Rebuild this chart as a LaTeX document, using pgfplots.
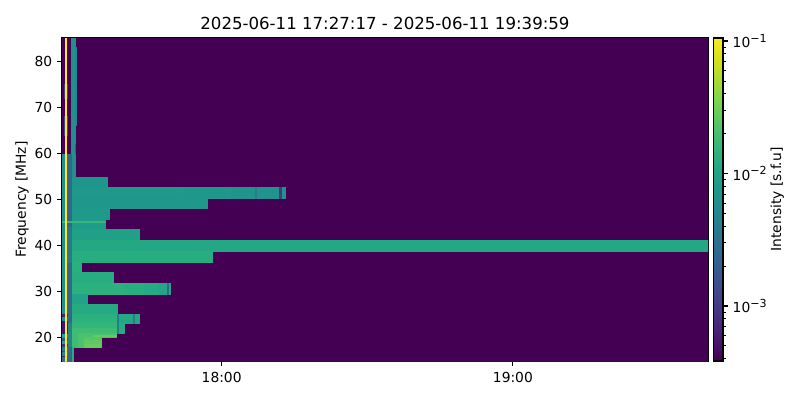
\documentclass[border=0pt]{standalone}
\usepackage{fontspec}
\setmainfont{DejaVu Sans}
\usepackage{pgfplots}
\pgfplotsset{compat=1.18}
\newcommand{\R}[5]{\addplot[forget plot,patch,patch type=rectangle,shader=flat,point meta=explicit] coordinates {(#1,#3) [#5] (#2,#3) [#5] (#2,#4) [#5] (#1,#4) [#5]};}
\newcommand{\pow}[1]{10\raisebox{0.75ex}{\fontsize{8}{9}\selectfont −#1}}
\begin{document}
\begin{tikzpicture}[x=1bp,y=1bp]
\useasboundingbox (0,0) rectangle (576,288);
\begin{axis}[
 at={(44.64bp,28.08bp)},anchor=south west,scale only axis,
 width=465.12bp,height=232.56bp,
 xmin=27.11,xmax=160.2,ymin=15,ymax=85,
 axis line style={line width=0.8pt},
 tick style={line width=0.8pt,black},
 major tick length=3.5pt,tick align=outside,tick pos=left,
 xtick={60,120},xticklabels={18:00,19:00},
 ytick={20,30,40,50,60,70,80},
 /pgf/number format/assume math mode=true,
 tick label style={font=\fontsize{10}{12}\selectfont},
 xticklabel style={yshift=-1.2bp},
 label style={font=\fontsize{10}{12}\selectfont},
 ylabel={Frequency [MHz]},
 ylabel style={at={(axis description cs:0,0.5)},anchor=south,yshift=20.4bp},
 title={2025-06-11 17:27:17 - 2025-06-11 19:39:59},
 title style={font=\fontsize{12}{14}\selectfont,at={(0.5,1)},anchor=south,yshift=-3.6bp},
 colormap/viridis,
 point meta min=-3.415,point meta max=-0.977,
 colorbar,
 colorbar shift/.style={xshift=3.6bp},
 colorbar style={
  scale only axis,width=6.8bp,height=232.56bp,
  ytick={-3,-2,-1},yticklabels={\pow{3},\pow{2},\pow{1}},
  minor ytick={-3.398,-3.301,-3.222,-3.155,-3.097,-3.046,-2.699,-2.523,-2.398,-2.301,-2.222,-2.155,-2.097,-2.046,-1.699,-1.523,-1.398,-1.301,-1.222,-1.155,-1.097,-1.046},
  major tick length=3.5pt,minor tick length=2pt,tick align=outside,
  tick pos=right,yticklabel pos=right,
  tick style={line width=0.8pt,black},
  minor tick style={line width=0.6pt,black},
  axis line style={line width=0.8pt},
  yticklabel style={font=\fontsize{10}{12}\selectfont},
  ylabel={Intensity [s.f.u]},
  ylabel style={font=\fontsize{10}{12}\selectfont,yshift=4bp},
 },
]
% background
\R{27.11}{160.2}{15}{85}{-3.415}
% bands: x0 x1 f0 f1 log10(intensity)
\R{29.07}{36.43}{52.7}{54.9}{-2.14}
\R{29.07}{73.20}{50.3}{52.7}{-2.10}
\R{52}{73.20}{50.3}{52.7}{-2.13}
\R{62}{73.20}{50.3}{52.7}{-2.16}
\R{29.07}{57.11}{48.2}{50.3}{-2.12}
\R{29.07}{36.76}{45.8}{48.2}{-2.10}
\R{29.07}{35.94}{43.6}{45.8}{-2.08}
\R{29.07}{43.09}{41.1}{43.6}{-2.02}
\R{29.07}{160.2}{38.7}{41.1}{-1.95}
\R{29.07}{58.08}{36.5}{38.7}{-1.90}
\R{29.07}{31.13}{34.3}{36.5}{-1.88}
\R{29.07}{37.73}{31.9}{34.3}{-1.90}
\R{29.07}{49.48}{29.5}{31.9}{-1.86}
\R{40}{49.48}{29.5}{31.9}{-1.89}
\R{44}{49.48}{29.5}{31.9}{-1.93}
\R{47}{49.48}{29.5}{31.9}{-1.97}
\R{29.07}{32.31}{27.4}{29.5}{-2.0}
\R{29.07}{38.56}{25.1}{27.4}{-1.93}
\R{29.07}{38.56}{24.1}{25.1}{-1.88}
\R{29.07}{38.56}{23.2}{24.1}{-1.84}
\R{38.56}{43.09}{23.2}{25.1}{-1.95}
\R{29.07}{38.56}{22.1}{23.2}{-1.80}
\R{38.56}{39.94}{21.1}{23.2}{-1.90}
\R{29.07}{38.56}{21.1}{22.1}{-1.74}
\R{29.07}{38.35}{20.2}{21.1}{-1.68}
\R{29.07}{35.11}{19.4}{20.2}{-1.63}
\R{29.07}{35.11}{18.7}{19.4}{-1.58}
\R{29.07}{35.11}{18.0}{18.7}{-1.54}
\R{29.07}{31.5}{18.0}{21.1}{-1.68}
\R{29.07}{30.2}{18.0}{21.1}{-1.74}
\R{29.07}{29.4}{15}{18.0}{-1.9}
% dark vertical lines
\R{66.9}{67.2}{50.3}{52.7}{-2.4}
\R{71.9}{72.3}{50.3}{52.7}{-3.0}
\R{48.8}{49.1}{29.5}{31.9}{-2.6}
\R{38.5}{38.7}{21.1}{25.1}{-2.4}
\R{41.7}{42.0}{23.2}{25.1}{-2.4}
% top strip
\R{29.07}{29.75}{59.7}{85}{-2.2}
\R{29.75}{29.95}{66}{83}{-2.3}
\R{29.07}{29.9}{54.9}{59.7}{-2.2}
\R{29.75}{29.9}{60}{62}{-2.7}
% left columns
\R{27.11}{28.25}{18.0}{59.7}{-2.25}
\R{28.25}{29.07}{18.0}{59.7}{-2.62}
\R{28.25}{29.07}{36.5}{44}{-2.45}
\R{27.11}{28.25}{18.0}{23.2}{-2.0}
\R{28.25}{29.07}{18.0}{23.2}{-2.35}
% stripes low in the left column
\R{27.11}{28.25}{24.6}{25.1}{-3.2}
\R{27.11}{28.25}{21.1}{23.6}{-3.3}
\R{27.11}{28.25}{19.6}{20.0}{-2.8}
\R{27.11}{28.25}{18.0}{18.6}{-3.1}
\R{27.11}{28.25}{16.9}{17.4}{-2.9}
\R{27.11}{28.25}{15.8}{16.3}{-3.2}
\R{27.11}{28.25}{15}{15.8}{-2.5}
\R{28.25}{29.07}{15}{18}{-2.6}
\R{27.11}{28.25}{17.4}{18.0}{-2.4}
\R{27.11}{28.25}{16.3}{16.9}{-2.3}
% faint marks at the top of the left column
\R{27.5}{28.25}{72}{75}{-3.0}
\R{27.5}{28.25}{64}{68}{-2.9}
% thin bright lines
\R{27.11}{35.94}{45.0}{45.2}{-1.78}
\R{33.5}{38.35}{20.3}{20.55}{-1.55}
% yellow line
\R{27.73}{28.04}{15}{85}{-0.98}
\end{axis}
\end{tikzpicture}
\end{document}
